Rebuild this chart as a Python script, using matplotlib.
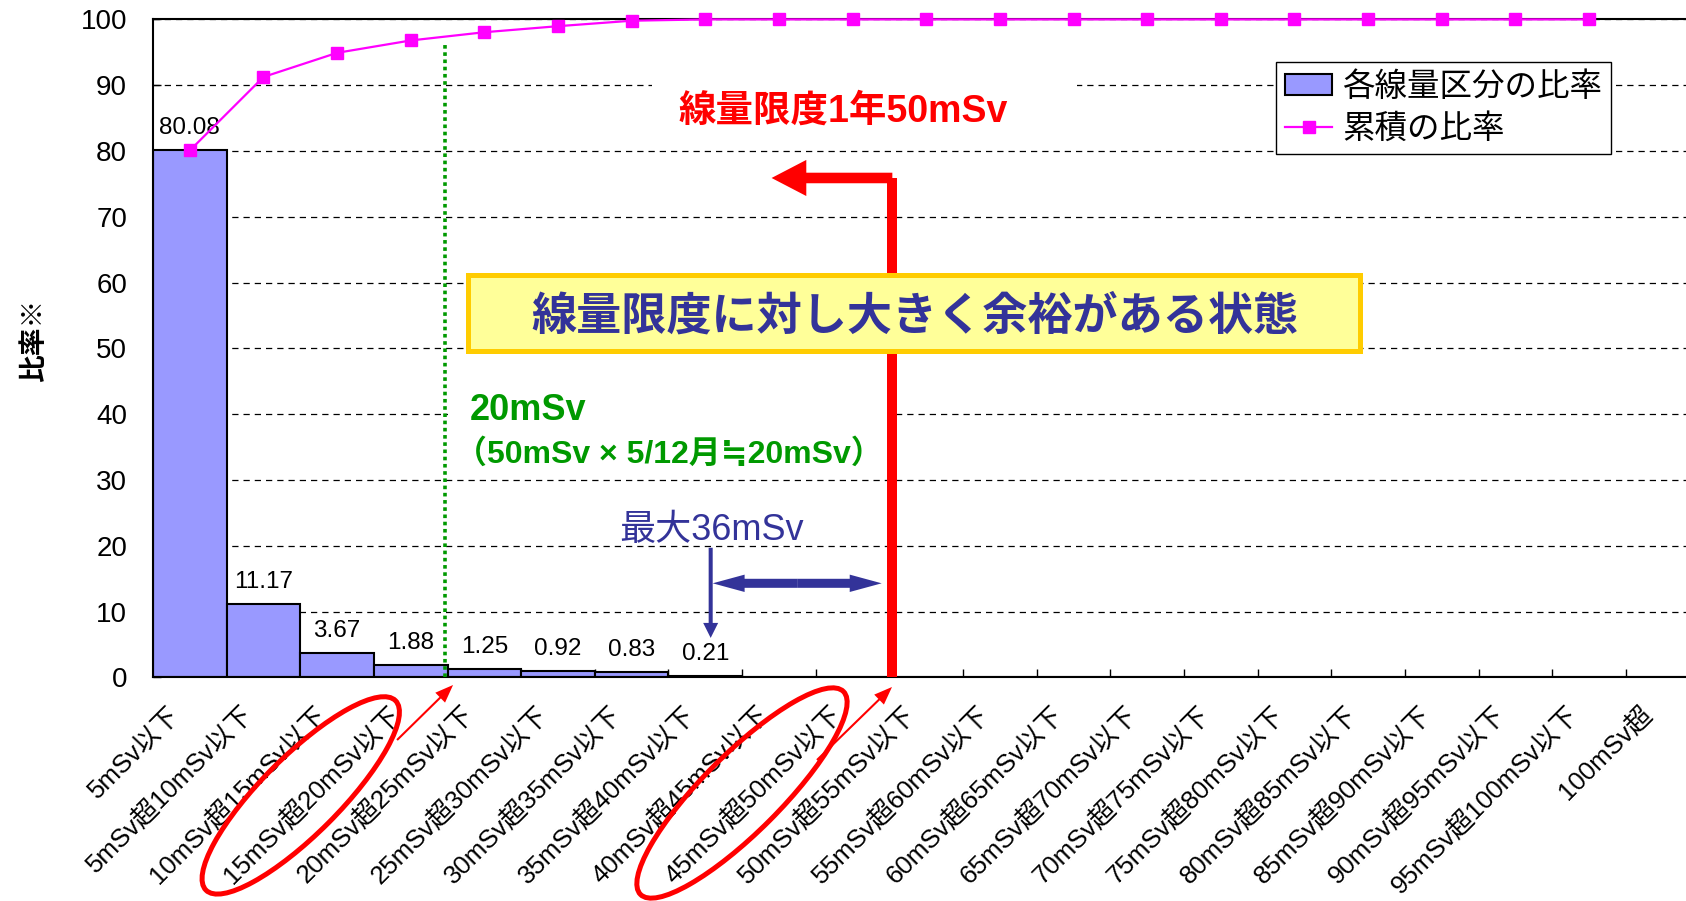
import numpy as np
import matplotlib
matplotlib.use("Agg")
import matplotlib.pyplot as plt
from matplotlib import font_manager
from matplotlib.patches import Rectangle, Ellipse, FancyArrowPatch
from matplotlib.transforms import Affine2D, IdentityTransform, ScaledTranslation

# ---- data -----------------------------------------------------------------
categories = [
    "5mSv以下", "5mSv超10mSv以下", "10mSv超15mSv以下", "15mSv超20mSv以下",
    "20mSv超25mSv以下", "25mSv超30mSv以下", "30mSv超35mSv以下", "35mSv超40mSv以下",
    "40mSv超45mSv以下", "45mSv超50mSv以下", "50mSv超55mSv以下", "55mSv超60mSv以下",
    "60mSv超65mSv以下", "65mSv超70mSv以下", "70mSv超75mSv以下", "75mSv超80mSv以下",
    "80mSv超85mSv以下", "85mSv超90mSv以下", "90mSv超95mSv以下", "95mSv超100mSv以下",
    "100mSv超",
]
share = [80.08, 11.17, 3.67, 1.88, 1.25, 0.92, 0.83, 0.21,
         0, 0, 0, 0, 0, 0, 0, 0, 0, 0, 0, 0, 0]
cumulative = [80.08, 91.25, 94.92, 96.80, 98.05, 98.97, 99.80, 100.0,
              100.0, 100.0, 100.0, 100.0, 100.0, 100.0, 100.0, 100.0,
              100.0, 100.0, 100.0, 100.0]
yticks = [0, 10, 20, 30, 40, 50, 60, 70, 80, 90, 100]
legend_labels = ["各線量区分の比率", "累積の比率"]

# ---- fonts ----------------------------------------------------------------
avail = {f.name for f in font_manager.fontManager.ttflist}
LATIN = "Liberation Sans" if "Liberation Sans" in avail else "DejaVu Sans"
CJK = "Noto Sans CJK JP"
MIXED = [LATIN, CJK, "DejaVu Sans"]
plt.rcParams["font.family"] = MIXED

BAR = "#9999FF"
MAGENTA = "#FF00FF"
NAVY = "#333399"
GREEN = "#009900"
RED = "#FF0000"

# ---- figure / axes --------------------------------------------------------
W, H = 1686, 901
fig = plt.figure(figsize=(W / 100, H / 100), dpi=100)
fig.patch.set_facecolor("white")
cat_w = 73.64
ax = fig.add_axes([153 / W, 1 - 677.4 / H, len(categories) * cat_w / W, 658 / H])
ax.set_xlim(-0.5, len(categories) - 0.5)
ax.set_ylim(0, 100)

x = np.arange(len(categories))

bars = ax.bar(x, share, width=1.0, color=BAR, edgecolor="black",
              linewidth=1.5, zorder=2)
for xi, v in zip(x, share):
    if v > 0:
        ax.annotate(f"{v:.2f}", (xi, v), xytext=(0, 16), textcoords="offset points",
                    ha="center", va="center", fontsize=17.5, family=LATIN, zorder=6)

line, = ax.plot(x[:len(cumulative)], cumulative, color=MAGENTA, lw=1.6,
                marker="s", ms=9, mec=MAGENTA, mfc=MAGENTA, zorder=7, clip_on=False)

# grid, ticks, spines
ax.set_axisbelow(True)
ax.set_yticks(yticks)
ax.yaxis.grid(True, linestyle=(0, (5, 4)), color="black", lw=0.9)
ax.tick_params(axis="y", direction="in", length=5.8, width=1, pad=18.7, labelsize=20)

ax.set_xticks(np.arange(-0.5, len(categories), 1.0))
ax.set_xticklabels([])
ax.set_xticks(x, minor=True)
ax.set_xticklabels(categories, minor=True, rotation=45, ha="right", va="center",
                   rotation_mode="anchor", fontsize=18.6, family=MIXED)
ax.tick_params(axis="x", which="major", direction="in", length=5.8, width=1)
ax.tick_params(axis="x", which="minor", length=0, pad=24)
label_shift = ScaledTranslation(-14 / 100, 0, fig.dpi_scale_trans)
for lbl in ax.get_xticklabels(minor=True):
    lbl.set_transform(lbl.get_transform() + label_shift)

for side in ("top", "left", "bottom"):
    ax.spines[side].set_linewidth(1.5)
    ax.spines[side].set_color("black")
ax.spines["right"].set_visible(False)

fig.text(34 / W, 1 - 340 / H, "比率※", rotation=90, ha="center", va="center",
         fontsize=20, fontweight="bold", family=[CJK])

# ---- legend ---------------------------------------------------------------
leg = ax.legend([bars, line], legend_labels, loc="upper left",
                bbox_to_anchor=(1276 / W, 1 - 62 / H), bbox_transform=fig.transFigure,
                borderaxespad=0, handlelength=1.45, handleheight=0.6,
                handletextpad=0.3, labelspacing=0.3, borderpad=0.28,
                fancybox=False, framealpha=1, edgecolor="black",
                prop={"family": [CJK], "size": 23.4})
leg.get_frame().set_linewidth(1.0)
leg.set_zorder(10)

# ---- annotations ----------------------------------------------------------
# white backgrounds behind the annotation texts
ax.add_patch(Rectangle((6.28, 83.5), 5.77, 9.5, fc="white", ec="none", zorder=1))
ax.add_patch(Rectangle((3.51, 31), 6.09, 15, fc="white", ec="none", zorder=1))

# 20 mSv reference (dotted green)
ax.plot([3.47, 3.47], [0, 96.1], color=GREEN, lw=2.6, linestyle=(0, (1, 1)),
        dash_capstyle="butt", zorder=3)
ax.text(3.805, 39.1, "20mSv", color=GREEN, fontsize=26, fontweight="bold",
        ha="left", va="baseline", family=MIXED, zorder=6)
ax.text(3.60, 32.6, "（50mSv × 5/12月≒20mSv）", color=GREEN, fontsize=23,
        fontweight="bold", ha="left", va="baseline", family=MIXED, zorder=6)

# annual dose limit 50 mSv (red L-shaped arrow)
ax.plot([9.54, 9.54], [0, 75.9], color=RED, lw=7.2, solid_capstyle="butt", zorder=3)
ax.add_patch(FancyArrowPatch((9.54, 75.9), (7.90, 75.9),
                             arrowstyle="simple,head_length=25,head_width=26,tail_width=7.6",
                             mutation_scale=1, shrinkA=0, shrinkB=0,
                             fc=RED, ec="none", lw=0, zorder=3))
ax.text(8.87, 86.0, "線量限度1年50mSv", color=RED, fontsize=27, fontweight="bold",
        ha="center", va="center", family=MIXED, zorder=6)

# message box
ax.add_patch(Rectangle((3.784, 49.53), 12.113, 11.55, fc="#FFFF99", ec="#FFCC00",
                       lw=3.6, zorder=4))
ax.text(9.85, 54.77, "線量限度に対し大きく余裕がある状態", color=NAVY, fontsize=32.5,
        fontweight="bold", ha="center", va="center", family=[CJK], zorder=6)

# maximum 36 mSv
ax.text(7.09, 20.9, "最大36mSv", color=NAVY, fontsize=26, ha="center",
        va="baseline", family=MIXED, zorder=6)
ax.add_patch(FancyArrowPatch((7.073, 19.7), (7.073, 6.0),
                             arrowstyle="simple,head_length=10.8,head_width=10.8,tail_width=2.9",
                             mutation_scale=1, shrinkA=0, shrinkB=0,
                             fc=NAVY, ec="none", lw=0, zorder=6))
mid = (7.10 + 9.395) / 2
for end in (7.10, 9.395):
    ax.add_patch(FancyArrowPatch((mid, 14.3), (end, 14.3),
                                 arrowstyle="simple,head_length=23,head_width=12.5,tail_width=6.5",
                                 mutation_scale=1, shrinkA=0, shrinkB=0,
                                 fc=NAVY, ec="none", lw=0, zorder=6))

# highlight rings around the 20 mSv and 50 mSv classes, with pointer arrows
def disp(xd, yd, ox=0.0, oy=0.0):
    px, py = ax.transData.transform((xd, yd))
    return px + ox, py + oy

for cat, ox, oy, major in ((3, -110, -118, 268), (9, -110.6, -115.6, 287)):
    cx, cy = disp(cat, 0, ox, oy)
    fig.add_artist(Ellipse((0, 0), major, 78, angle=45, fill=False, ec=RED, lw=3.6,
                           transform=Affine2D().translate(cx, cy)))

for bound, start, tip in ((3.5, (-50.5, -62.6), (5.5, -7.6)),
                          (9.5, (-72.4, -82.6), (2.6, -9.6))):
    fig.add_artist(FancyArrowPatch(disp(bound, 0, *start), disp(bound, 0, *tip),
                                   arrowstyle="simple,head_length=13,head_width=10,tail_width=1.5",
                                   mutation_scale=1, shrinkA=0, shrinkB=0,
                                   fc=RED, ec="none", lw=0, transform=IdentityTransform()))

fig.savefig("out.png", dpi=100, facecolor="white")
